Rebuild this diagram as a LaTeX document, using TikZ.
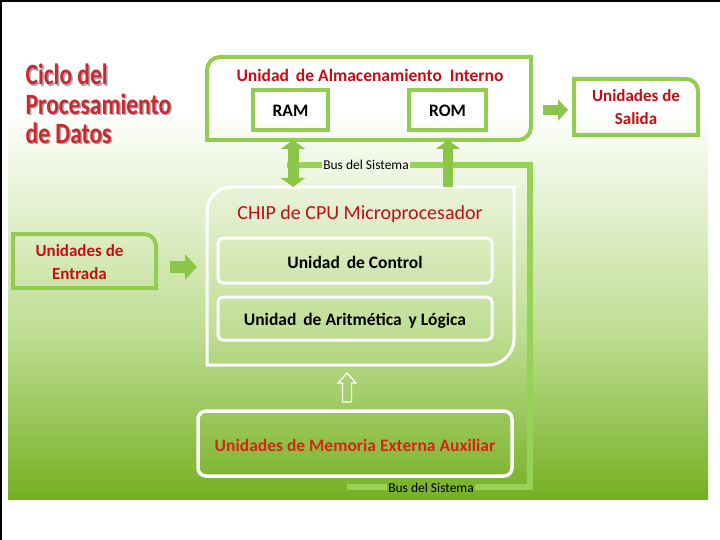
\documentclass[tikz,border=0pt]{standalone}
\usepackage{fontspec}
\setmainfont{Carlito}
\usetikzlibrary{arrows.meta,calc}
\definecolor{grn}{RGB}{146,204,80}
\definecolor{arrg}{RGB}{140,198,72}
\definecolor{busg}{RGB}{150,210,86}
\definecolor{txtred}{RGB}{196,14,20}
\definecolor{memred}{RGB}{214,38,16}
\definecolor{ttlred}{RGB}{204,40,48}
\definecolor{bgmid}{RGB}{192,222,148}
\definecolor{bgbot}{RGB}{118,176,36}
\definecolor{bustop}{RGB}{240,247,230}
\definecolor{busbot}{RGB}{123,179,43}
\newcommand{\titletext}{\scalebox{1}[1.25]{\begin{tabular}[t]{@{}l@{}}Ciclo del\\Procesamiento\\de Datos\end{tabular}}}
\begin{document}
\begin{tikzpicture}[x=1pt,y=-1pt,
  area/.style={inner sep=0pt, outer sep=0pt},
  grline/.style={draw=grn, line width=4pt},
  whline/.style={draw=white, line width=3pt},
  blk/.style={font=\fontsize{17.5}{21}\selectfont\bfseries, text=black},
  redlbl/.style={font=\fontsize{17}{23}\selectfont\bfseries, text=txtred, align=center},
  busline/.style={draw=busg, line width=6pt},
  buslbl/.style={font=\fontsize{13.5}{16}\selectfont, text=black, inner sep=1pt},
  blockarrow/.style={draw=arrg, line width=#1},
  hollow/.style={draw=white, line width=1.3pt},
  ttl/.style={font=\fontsize{23.5}{23}\selectfont\bfseries, anchor=base west, inner sep=0pt}
]
\useasboundingbox (0,0) rectangle (720,540);
% background
\fill[white] (0,0) rectangle (720,540);
\shade[top color=white, bottom color=bgmid] (8,110) rectangle (708,330.5);
\shade[top color=bgmid, bottom color=bgbot] (8,330) rectangle (708,499);
\draw[black, line width=2pt] (1,540) -- (1,1) -- (720,1);

% title
\node[ttl, text=black!75, opacity=0.45] at (27,86.5) {\titletext};
\node[ttl, text=ttlred] (title) at (25.5,85) {\titletext};

% node areas
\node[area, minimum width=324pt, minimum height=83pt] (st) at (369,98.5) {};
\node[area, minimum width=75pt, minimum height=40pt] (ram) at (290.5,110) {};
\node[area, minimum width=77pt, minimum height=40pt] (rom) at (447.5,110) {};
\node[area, minimum width=124pt, minimum height=56pt] (sal) at (636,107) {};
\node[area, minimum width=143pt, minimum height=54pt] (ent) at (84.5,261) {};
\node[area, minimum width=307pt, minimum height=178pt] (cpu) at (360.5,276) {};
\node[area, minimum width=274pt, minimum height=45pt] (cu) at (355,260.5) {};
\node[area, minimum width=274pt, minimum height=43pt] (alu) at (355,318.5) {};
\node[area, minimum width=314pt, minimum height=65pt] (mem) at (355,443.5) {};
\coordinate (hx) at (347,0);

% bus
\coordinate (b1) at (287,165);
\coordinate (b2) at (530,165);
\coordinate (b3) at (530,487);
\coordinate (b4) at (347,487);
\draw[busline] (b1) -- (b2) -- (b3) -- (b4);
\node[buslbl, fill=bustop] (bus1) at (366,165) {Bus del Sistema};
\node[buslbl, fill=busbot] (bus2) at (431,488) {Bus del Sistema};

% storage box
\draw[grline] (st.south west) [rounded corners=13pt] -- (st.north west) [sharp corners] -- (st.north east) [rounded corners=13pt] -- (st.south east) [sharp corners] -- cycle;
\node[font=\fontsize{17.5}{21}\selectfont\bfseries, text=txtred] (stt) at (370,75) {Unidad\, de Almacenamiento\ \ Interno};
\draw[grline] (ram.south west) rectangle (ram.north east);
\draw[grline] (rom.south west) rectangle (rom.north east);
\node[blk] at ([yshift=-0.5pt]ram.center) {RAM};
\node[blk] at ([yshift=-0.5pt]rom.center) {ROM};

% salida
\draw[grline] (sal.south west) -- (sal.north west) [rounded corners=12pt] -- (sal.north east) [sharp corners] -- (sal.south east) -- cycle;
\node[redlbl] at (sal) {Unidades de\\Salida};

% entrada
\draw[grline] (ent.south west) -- (ent.north west) [rounded corners=12pt] -- (ent.north east) [sharp corners] -- (ent.south east) -- cycle;
\node[redlbl] at ([xshift=-5pt,yshift=-1.5pt]ent.center) {Unidades de\\Entrada};

% cpu
\draw[whline] (cpu.south west) [rounded corners=24pt] -- (cpu.north west) [sharp corners] -- (cpu.north east) [rounded corners=26pt] -- (cpu.south east) [sharp corners] -- cycle;
\node[font=\fontsize{20}{24}\selectfont, text=txtred] (cput) at (360,214.5) {CHIP de CPU Microprocesador};
\draw[whline, rounded corners=5pt] (cu.south west) rectangle (cu.north east);
\draw[whline, rounded corners=5pt] (alu.south west) rectangle (alu.north east);
\node[blk] at ([yshift=-2pt]cu.center) {Unidad\, de Control};
\node[blk] at ([yshift=-2.5pt]alu.center) {Unidad\, de Aritmética\, y Lógica};

% memoria externa
\draw[draw=white, line width=3.5pt, rounded corners=8pt] (mem.south west) rectangle (mem.north east);
\node[font=\fontsize{17.5}{21}\selectfont\bfseries, text=memred] at ([yshift=-2pt]mem.center) {Unidades de Memoria Externa Auxiliar};

% arrows
\draw[blockarrow=11pt, {Triangle[length=9pt,width=24pt]}-{Triangle[length=9pt,width=24pt]}] ([xshift=2.5pt]ram.south |- st.south) -- ([xshift=2.5pt]ram.south |- cpu.north);
\draw[blockarrow=10pt, -{Triangle[length=9pt,width=24pt]}] ([xshift=0.5pt]rom.south |- cpu.north) -- ([xshift=0.5pt]rom.south |- st.south);
\draw[blockarrow=10pt, -{Triangle[length=10pt,width=21pt]}, shorten <=12pt, shorten >=6pt] (st.east |- 0,110) -- (sal.west |- 0,110);
\draw[blockarrow=12pt, -{Triangle[length=12pt,width=25pt]}, shorten <=14pt, shorten >=10pt] (ent.east |- 0,267) -- (cpu.west |- 0,267);
% hollow arrow
\draw[hollow] ($(mem.north -| hx)+(-4.5,-9)$) -- ++(0,-19) -- ++(-4.5,0) -- (347,373) -- ++(9,10) -- ++(-4.5,0) -- ++(0,19) -- cycle;
\end{tikzpicture}
\end{document}
